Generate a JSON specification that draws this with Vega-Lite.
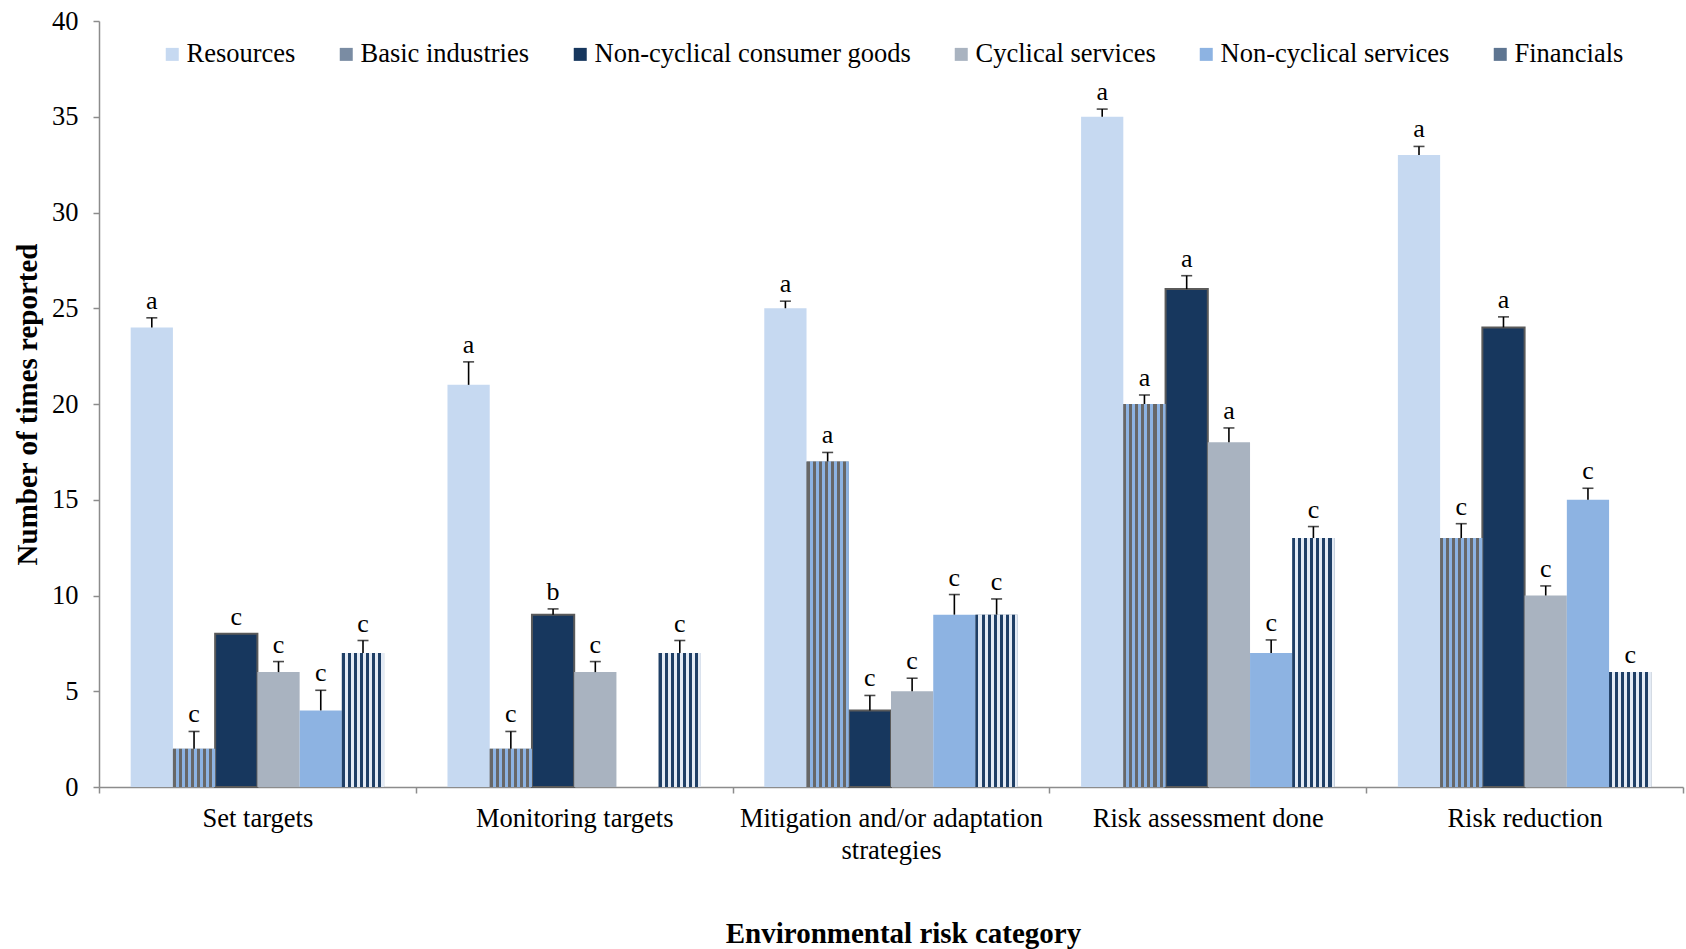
{
  "$schema": "https://vega.github.io/schema/vega-lite/v6.json",
  "width": 1584,
  "height": 766,
  "autosize": {"type": "none"},
  "padding": {"left": 99, "top": 21, "right": 3, "bottom": 162},
  "background": "white",
  "config": {"font": "Liberation Serif", "view": {"stroke": null}},
  "data": {"values": [
    {"category": "Set targets", "sector": "Resources", "value": 24, "upper": 24.5, "letter": "a"},
    {"category": "Set targets", "sector": "Basic industries", "value": 2, "upper": 2.9, "letter": "c"},
    {"category": "Set targets", "sector": "Non-cyclical consumer goods", "value": 8, "upper": 8, "letter": "c"},
    {"category": "Set targets", "sector": "Cyclical services", "value": 6, "upper": 6.55, "letter": "c"},
    {"category": "Set targets", "sector": "Non-cyclical services", "value": 4, "upper": 5.05, "letter": "c"},
    {"category": "Set targets", "sector": "Financials", "value": 7, "upper": 7.65, "letter": "c"},
    {"category": "Monitoring targets", "sector": "Resources", "value": 21, "upper": 22.2, "letter": "a"},
    {"category": "Monitoring targets", "sector": "Basic industries", "value": 2, "upper": 2.9, "letter": "c"},
    {"category": "Monitoring targets", "sector": "Non-cyclical consumer goods", "value": 9, "upper": 9.3, "letter": "b"},
    {"category": "Monitoring targets", "sector": "Cyclical services", "value": 6, "upper": 6.55, "letter": "c"},
    {"category": "Monitoring targets", "sector": "Non-cyclical services", "value": 0, "upper": 0, "letter": ""},
    {"category": "Monitoring targets", "sector": "Financials", "value": 7, "upper": 7.65, "letter": "c"},
    {"category": "Mitigation and/or adaptation strategies", "sector": "Resources", "value": 25, "upper": 25.37, "letter": "a"},
    {"category": "Mitigation and/or adaptation strategies", "sector": "Basic industries", "value": 17, "upper": 17.47, "letter": "a"},
    {"category": "Mitigation and/or adaptation strategies", "sector": "Non-cyclical consumer goods", "value": 4, "upper": 4.78, "letter": "c"},
    {"category": "Mitigation and/or adaptation strategies", "sector": "Cyclical services", "value": 5, "upper": 5.68, "letter": "c"},
    {"category": "Mitigation and/or adaptation strategies", "sector": "Non-cyclical services", "value": 9, "upper": 10.05, "letter": "c"},
    {"category": "Mitigation and/or adaptation strategies", "sector": "Financials", "value": 9, "upper": 9.82, "letter": "c"},
    {"category": "Risk assessment done", "sector": "Resources", "value": 35, "upper": 35.4, "letter": "a"},
    {"category": "Risk assessment done", "sector": "Basic industries", "value": 20, "upper": 20.47, "letter": "a"},
    {"category": "Risk assessment done", "sector": "Non-cyclical consumer goods", "value": 26, "upper": 26.7, "letter": "a"},
    {"category": "Risk assessment done", "sector": "Cyclical services", "value": 18, "upper": 18.75, "letter": "a"},
    {"category": "Risk assessment done", "sector": "Non-cyclical services", "value": 7, "upper": 7.68, "letter": "c"},
    {"category": "Risk assessment done", "sector": "Financials", "value": 13, "upper": 13.6, "letter": "c"},
    {"category": "Risk reduction", "sector": "Resources", "value": 33, "upper": 33.45, "letter": "a"},
    {"category": "Risk reduction", "sector": "Basic industries", "value": 13, "upper": 13.75, "letter": "c"},
    {"category": "Risk reduction", "sector": "Non-cyclical consumer goods", "value": 24, "upper": 24.55, "letter": "a"},
    {"category": "Risk reduction", "sector": "Cyclical services", "value": 10, "upper": 10.5, "letter": "c"},
    {"category": "Risk reduction", "sector": "Non-cyclical services", "value": 15, "upper": 15.6, "letter": "c"},
    {"category": "Risk reduction", "sector": "Financials", "value": 6, "upper": 6, "letter": "c"}
  ]},
  "encoding": {
    "x": {
      "field": "category", "type": "nominal",
      "sort": ["Set targets", "Monitoring targets", "Mitigation and/or adaptation strategies", "Risk assessment done", "Risk reduction"],
      "scale": {"paddingInner": 0, "paddingOuter": 0},
      "axis": {
        "title": "Environmental risk category",
        "titleFont": "Liberation Serif", "titleFontSize": 29, "titleFontWeight": "bold", "titleColor": "black",
        "titleX": 804, "titleY": 155, "titleBaseline": "alphabetic", "titleAnchor": null,
        "labelAngle": 0, "labelFontSize": 26.5, "labelColor": "black", "labelLimit": 0,
        "labelLineHeight": 32, "labelPadding": 12,
        "labelExpr": "datum.label == 'Mitigation and/or adaptation strategies' ? ['Mitigation and/or adaptation', 'strategies'] : datum.label",
        "tickBand": "extent", "tickSize": 6, "tickColor": "#8C8C8C", "tickWidth": 1.5,
        "domainColor": "#8C8C8C", "domainWidth": 1.5
      }
    },
    "xOffset": {
      "field": "sector", "type": "nominal",
      "scale": {"domain": ["Resources", "Basic industries", "Non-cyclical consumer goods", "Cyclical services", "Non-cyclical services", "Financials"], "paddingOuter": 0.75, "paddingInner": 0}
    },
    "y": {
      "field": "value", "type": "quantitative",
      "scale": {"domain": [0, 40]},
      "axis": {
        "title": "Number of times reported",
        "titleFont": "Liberation Serif", "titleFontSize": 29, "titleFontWeight": "bold", "titleColor": "black",
        "titleX": -72, "titleY": 383, "titleBaseline": "middle", "titleAngle": -90,
        "values": [0, 5, 10, 15, 20, 25, 30, 35, 40],
        "labelFontSize": 26.5, "labelColor": "black", "labelPadding": 15,
        "tickSize": 6, "tickColor": "#8C8C8C", "tickWidth": 1.5,
        "domainColor": "#8C8C8C", "domainWidth": 1.5, "grid": false
      }
    }
  },
  "layer": [
    {
      "mark": {"type": "bar", "stroke": "#5A5A5A"},
      "encoding": {
        "color": {
          "field": "sector", "type": "nominal",
          "scale": {
            "domain": ["Resources", "Basic industries", "Non-cyclical consumer goods", "Cyclical services", "Non-cyclical services", "Financials"],
            "range": ["#C6D9F1", "#7A8CA3", "#17375E", "#A9B3C0", "#8DB3E2", "#5E7591"]
          },
          "legend": {
            "title": null, "orient": "none", "legendX": 60, "legendY": 20,
            "direction": "horizontal", "columns": 6, "columnPadding": 37,
            "symbolType": "square", "symbolSize": 169, "symbolStrokeWidth": 0,
            "labelFont": "Liberation Serif", "labelFontSize": 26.5, "labelColor": "black",
            "labelOffset": 1, "labelLimit": 0
          }
        },
        "strokeWidth": {"condition": {"test": "datum.sector == 'Non-cyclical consumer goods'", "value": 2}, "value": 0}
      }
    },
    {
      "transform": [{"filter": "datum.sector == 'Basic industries'"}],
      "mark": {"type": "bar", "fill": {"gradient": "linear", "x1": 0, "y1": 0, "x2": 1, "y2": 0, "stops": [
        {"offset": 0, "color": "#676767"}, {"offset": 0.0714, "color": "#676767"},
        {"offset": 0.0714, "color": "#8DB3E2"}, {"offset": 0.1429, "color": "#8DB3E2"},
        {"offset": 0.1429, "color": "#676767"}, {"offset": 0.2143, "color": "#676767"},
        {"offset": 0.2143, "color": "#8DB3E2"}, {"offset": 0.2857, "color": "#8DB3E2"},
        {"offset": 0.2857, "color": "#676767"}, {"offset": 0.3571, "color": "#676767"},
        {"offset": 0.3571, "color": "#8DB3E2"}, {"offset": 0.4286, "color": "#8DB3E2"},
        {"offset": 0.4286, "color": "#676767"}, {"offset": 0.5, "color": "#676767"},
        {"offset": 0.5, "color": "#8DB3E2"}, {"offset": 0.5714, "color": "#8DB3E2"},
        {"offset": 0.5714, "color": "#676767"}, {"offset": 0.6429, "color": "#676767"},
        {"offset": 0.6429, "color": "#8DB3E2"}, {"offset": 0.7143, "color": "#8DB3E2"},
        {"offset": 0.7143, "color": "#676767"}, {"offset": 0.7857, "color": "#676767"},
        {"offset": 0.7857, "color": "#8DB3E2"}, {"offset": 0.8571, "color": "#8DB3E2"},
        {"offset": 0.8571, "color": "#676767"}, {"offset": 0.9286, "color": "#676767"},
        {"offset": 0.9286, "color": "#8DB3E2"}, {"offset": 1, "color": "#8DB3E2"}
      ]}}
    },
    {
      "transform": [{"filter": "datum.sector == 'Financials'"}],
      "mark": {"type": "bar", "fill": {"gradient": "linear", "x1": 0, "y1": 0, "x2": 1, "y2": 0, "stops": [
        {"offset": 0, "color": "#1F3F66"}, {"offset": 0.0714, "color": "#1F3F66"},
        {"offset": 0.0714, "color": "#E4EBF5"}, {"offset": 0.1429, "color": "#E4EBF5"},
        {"offset": 0.1429, "color": "#1F3F66"}, {"offset": 0.2143, "color": "#1F3F66"},
        {"offset": 0.2143, "color": "#E4EBF5"}, {"offset": 0.2857, "color": "#E4EBF5"},
        {"offset": 0.2857, "color": "#1F3F66"}, {"offset": 0.3571, "color": "#1F3F66"},
        {"offset": 0.3571, "color": "#E4EBF5"}, {"offset": 0.4286, "color": "#E4EBF5"},
        {"offset": 0.4286, "color": "#1F3F66"}, {"offset": 0.5, "color": "#1F3F66"},
        {"offset": 0.5, "color": "#E4EBF5"}, {"offset": 0.5714, "color": "#E4EBF5"},
        {"offset": 0.5714, "color": "#1F3F66"}, {"offset": 0.6429, "color": "#1F3F66"},
        {"offset": 0.6429, "color": "#E4EBF5"}, {"offset": 0.7143, "color": "#E4EBF5"},
        {"offset": 0.7143, "color": "#1F3F66"}, {"offset": 0.7857, "color": "#1F3F66"},
        {"offset": 0.7857, "color": "#E4EBF5"}, {"offset": 0.8571, "color": "#E4EBF5"},
        {"offset": 0.8571, "color": "#1F3F66"}, {"offset": 0.9286, "color": "#1F3F66"},
        {"offset": 0.9286, "color": "#E4EBF5"}, {"offset": 1, "color": "#E4EBF5"}
      ]}}
    },
    {
      "transform": [{"filter": "datum.upper > datum.value"}],
      "mark": {"type": "rule", "color": "black", "strokeWidth": 1.6},
      "encoding": {"y2": {"field": "upper"}}
    },
    {
      "transform": [{"filter": "datum.upper > datum.value"}],
      "mark": {"type": "tick", "color": "black", "size": 11, "thickness": 1.6, "orient": "horizontal"},
      "encoding": {"y": {"field": "upper", "type": "quantitative"}}
    },
    {
      "transform": [{"filter": "datum.letter != ''"}],
      "mark": {"type": "text", "font": "Liberation Serif", "fontSize": 26, "color": "black", "baseline": "alphabetic", "dy": -9},
      "encoding": {"y": {"field": "upper", "type": "quantitative"}, "text": {"field": "letter"}}
    }
  ]
}
